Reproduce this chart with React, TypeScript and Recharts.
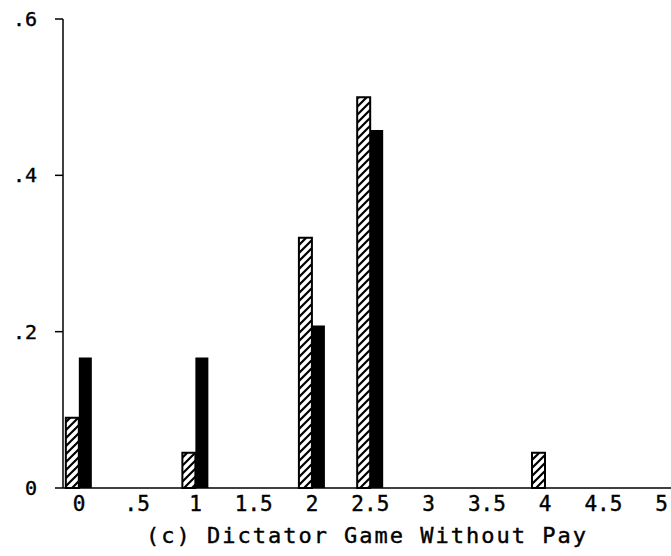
import { Bar, BarChart, Label, XAxis, YAxis } from "recharts";

// offer amounts (dollars out of 5) and share of subjects choosing each
const offers = [0, 1, 2, 2.5, 4];
const hatchedShares = [0.09, 0.045, 0.32, 0.5, 0.045];
const solidShares = [0.167, 0.167, 0.208, 0.458, 0];

const xTicks = [0, 0.5, 1, 1.5, 2, 2.5, 3, 3.5, 4, 4.5, 5];
const yTicks = [0, 0.2, 0.4, 0.6];

const data = offers.map((offer, i) => ({
  offer,
  hatched: hatchedShares[i],
  solid: solidShares[i],
}));

const font = "'DejaVu Sans Mono', monospace";

// 0.5 -> ".5", 2 -> "2", 0 -> "0"
const trimZero = (v: number) => (v === 0 ? "0" : String(v).replace(/^0\./, "."));

export default function App() {
  return (
    <div style={{ position: "absolute", left: 0, top: 0, background: "#fff" }}>
      <BarChart
        width={671}
        height={556}
        data={data}
        margin={{ top: 19, right: 0, bottom: 0, left: 0 }}
        barGap={0}
        barSize={13}
      >
        <defs>
          <pattern id="hatch" patternUnits="userSpaceOnUse" width="8" height="8">
            <rect width="8" height="8" fill="#fff" />
            <path d="M-2,2 L2,-2 M0,8 L8,0 M6,10 L10,6" stroke="#000" strokeWidth="2.2" />
          </pattern>
        </defs>
        <XAxis
          dataKey="offer"
          type="number"
          domain={[-0.137, 5.08]}
          ticks={xTicks}
          tickFormatter={trimZero}
          allowDataOverflow
          height={68}
          stroke="#000"
          strokeWidth={1.5}
          tickLine={false}
          tickSize={0}
          tickMargin={8}
          tick={{ fill: "#000", fontSize: 21, fontFamily: font, stroke: "#000", strokeWidth: 0.4 }}
        >
          <Label
            value="(c) Dictator Game Without Pay"
            position="insideBottom"
            offset={13}
            fill="#000"
            stroke="#000"
            strokeWidth={0.4}
            fontSize={22}
            fontFamily={font}
            letterSpacing={2}
          />
        </XAxis>
        <YAxis
          type="number"
          domain={[0, 0.6]}
          ticks={yTicks}
          tickFormatter={trimZero}
          width={63}
          stroke="#000"
          strokeWidth={1.5}
          tickSize={8}
          tickMargin={18}
          tick={{ fill: "#000", fontSize: 20, fontFamily: font, stroke: "#000", strokeWidth: 0.4 }}
        />
        <Bar dataKey="hatched" fill="url(#hatch)" stroke="#000" strokeWidth={2} isAnimationActive={false} />
        <Bar dataKey="solid" fill="#000" isAnimationActive={false} />
      </BarChart>
    </div>
  );
}
